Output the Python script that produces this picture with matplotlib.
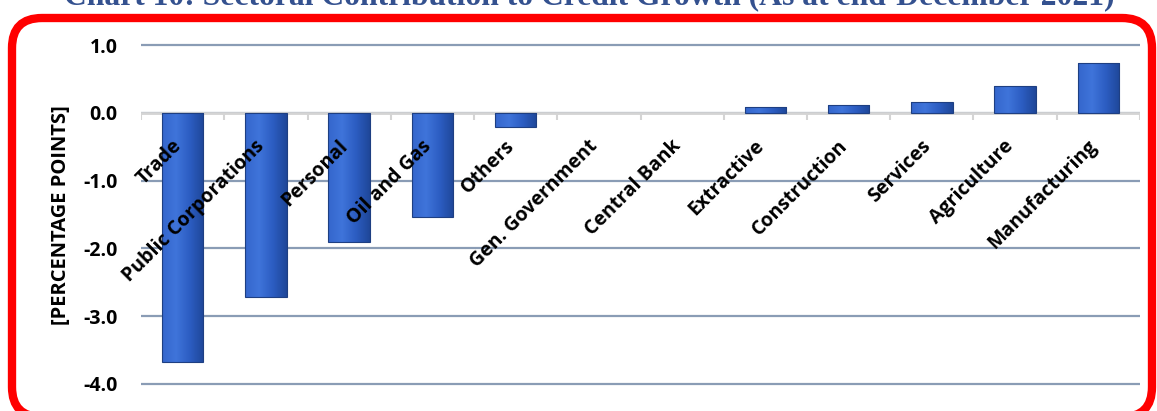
import numpy as np
import matplotlib.pyplot as plt
from matplotlib.patches import FancyBboxPatch
from matplotlib.colors import LinearSegmentedColormap

# sector contributions to credit growth, percentage points
sectors = ['Trade', 'Public Corporations', 'Personal', 'Oil and Gas', 'Others',
           'Gen. Government', 'Central Bank', 'Extractive', 'Construction',
           'Services', 'Agriculture', 'Manufacturing']
contribution = [-3.68, -2.72, -1.90, -1.54, -0.21, 0.0, 0.0,
                0.09, 0.12, 0.16, 0.40, 0.73]
yticks = [1.0, 0.0, -1.0, -2.0, -3.0, -4.0]
title = 'Chart 10: Sectoral Contribution to Credit Growth (As at end-December 2021)'

plt.rcParams['font.family'] = ['Open Sans', 'DejaVu Sans']

fig = plt.figure(figsize=(11.57, 4.11), dpi=100)
ax = fig.add_axes([0.1219, 0.0608, 0.8634, 0.8346])

x = np.arange(len(sectors))
bars = ax.bar(x, contribution, width=0.5, color='none', edgecolor='#1E3F82',
              linewidth=0.8, zorder=3)

# horizontal shading inside each bar
cmap = LinearSegmentedColormap.from_list(
    'barblue', ['#3566CC', '#3F74DA', '#2C5DC2', '#1F4799'])
grad = np.linspace(0, 1, 64).reshape(1, -1)
for b in bars:
    h = b.get_height()
    if h == 0:
        b.set_linewidth(0)
        continue
    x0 = b.get_x()
    x1 = x0 + b.get_width()
    im = ax.imshow(grad, extent=[x0, x1, min(0, h), max(0, h)], aspect='auto',
                   cmap=cmap, zorder=2.9, interpolation='bilinear')
    im.set_clip_path(b)

ax.set_xlim(-0.5, len(sectors) - 0.5)
ax.set_ylim(-4.03, 1.03)

ax.set_yticks(yticks)
ax.set_yticklabels(['%.1f' % v for v in yticks], fontsize=14, fontweight='bold')
ax.tick_params(axis='y', length=0, pad=17)
ax.set_xticks([])
ax.yaxis.grid(True, color='#8A9CB5', linewidth=1.6)
ax.set_axisbelow(True)
for s in ax.spines.values():
    s.set_visible(False)

# category axis at zero with small tick marks between categories
ax.axhline(0, color='#D4D4D4', linewidth=2, zorder=1.5)
ax.vlines(np.arange(-0.5, len(sectors)), -0.1, 0, color='#D4D4D4',
          linewidth=1.5, zorder=1.5)

for i, name in enumerate(sectors):
    ax.text(i - 0.05, -0.45, name, rotation=45, rotation_mode='anchor',
            ha='right', va='center', fontsize=14, fontweight='bold', zorder=4)

fig.text(61 / 1157, 1 - 215 / 411, '[PERCENTAGE POINTS]', rotation=90,
         ha='center', va='center', fontsize=14.5, fontweight='bold')

fig.text(589 / 1157, 1 - 4 / 411, title, ha='center', va='baseline',
         fontsize=22.8, fontweight='bold', family='Liberation Serif',
         color='#34518F')

box = FancyBboxPatch((0.12, -0.06), 11.40, 3.99,
                     boxstyle='round,pad=0,rounding_size=0.3',
                     transform=fig.dpi_scale_trans, fill=False,
                     edgecolor='#FF0000', linewidth=6, clip_on=False)
fig.add_artist(box)

fig.savefig('out.png', dpi=100)
